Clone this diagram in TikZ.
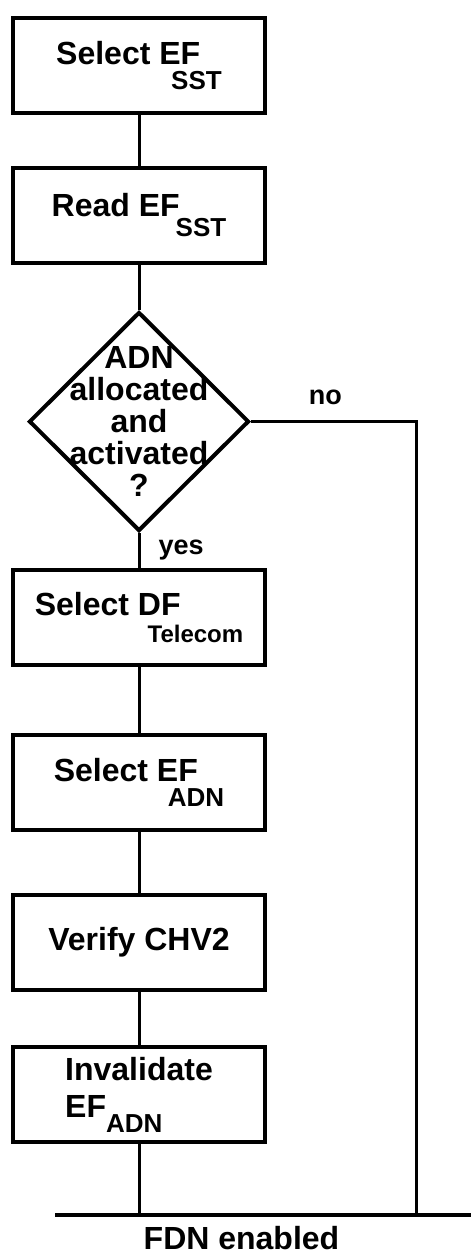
\documentclass[tikz,border=0pt]{standalone}
\usepackage{fontspec}
\setmainfont{Liberation Sans}
\usetikzlibrary{positioning,shapes.geometric}
\newcommand{\subfont}{\fontsize{13}{13}\selectfont}
\newcommand{\lowsub}[3]{\hspace*{#1}\raisebox{-#2}{\subfont #3}}

\begin{document}
\begin{tikzpicture}[
  font=\bfseries\fontsize{16}{18.5}\selectfont,
  stepbox/.style={draw, line width=2pt, minimum width=126pt, minimum height=47.5pt,
    inner sep=0pt, align=center},
  decision/.style={diamond, draw, line width=2pt, minimum width=110pt, minimum height=109.5pt,
    inner sep=0pt},
  dtext/.style={align=center, inner sep=0pt, font=\bfseries\fontsize{16}{16}\selectfont},
  link/.style={line width=1.5pt},
  bus/.style={line width=2pt},
  lbl/.style={inner sep=0pt, font=\bfseries\fontsize{13.5}{13.5}\selectfont}
]
\useasboundingbox (0,0) rectangle (235.5pt,-627.5pt);
\node[stepbox] (b1) at (69.5pt,-32.75pt) {Select EF\lowsub{-14.5pt}{12.5pt}{SST}};
\node[stepbox, below=25.5pt of b1] (b2) {Read EF\lowsub{-2pt}{10pt}{SST}};
\node[decision, below=22.5pt of b2, label={[dtext]center:ADN\\allocated\\and\\activated\\?}] (q) {};
\node[stepbox, below=17.5pt of q] (b3)
  {Select DF\lowsub{-16.5pt}{13.5pt}{\fontsize{12}{12}\selectfont Telecom}};
\node[stepbox, below=33pt of b3] (b4) {Select EF\lowsub{-15pt}{12.5pt}{ADN}};
\node[stepbox, below=30.5pt of b4] (b5) {Verify CHV2};
\node[stepbox, below=26.5pt of b5, align=left] (b6) {Invalidate\\EF\lowsub{0pt}{7.5pt}{ADN}};
\coordinate[below=35.5pt of b6] (merge);
\coordinate (busW) at ([xshift=-42pt]merge);
\coordinate (busE) at ([xshift=166pt]merge);
\coordinate (riser) at ([xshift=138.5pt]merge);
\foreach \u/\v in {b1/b2,b2/q,b3/b4,b4/b5,b5/b6,b6/merge}{\draw[link] (\u)--(\v);}
\draw[link] (q) -- node[lbl, midway, right=9pt] {yes} (b3);
\draw[link] (q.east) -| node[lbl, pos=0.225, above=7.5pt] {no} (riser);
\draw[bus] (busW) -- (busE);
\node[anchor=north, inner sep=0pt] (fdn) at ([xshift=51.25pt, yshift=-5.5pt]merge) {FDN enabled};
\end{tikzpicture}
\end{document}
